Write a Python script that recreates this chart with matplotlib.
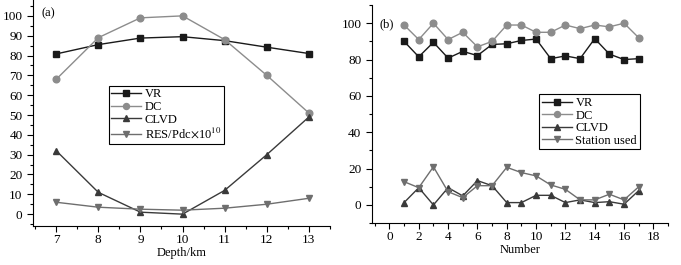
"""
Moment tensor inversion results: (a) versus depth, (b) per event number
"""

import matplotlib
matplotlib.use("Agg")
import matplotlib.pyplot as plt
from matplotlib.ticker import MultipleLocator

plt.rcParams['font.family'] = ['Liberation Serif', 'DejaVu Serif']
plt.rcParams['font.size'] = 9
plt.rcParams['mathtext.fontset'] = 'stix'

# Panel (a): depth scan
depth = [7, 8, 9, 10, 11, 12, 13]
vr_a = [80.8, 85.5, 88.8, 89.5, 87.5, 84.2, 81.0]
dc_a = [68, 89, 99, 100, 88, 70, 51]
clvd_a = [32, 11, 1, 0, 12, 30, 49]
res_a = [6, 3.5, 2.5, 2, 3, 5, 8]

# Panel (b): per event
number = list(range(1, 18))
vr_b = [90, 81.5, 89.5, 80.8, 84.5, 82.2, 88.3, 88.7, 90.5, 91.3, 80.5, 82, 80.5, 91.5, 83, 80, 80.5]
dc_b = [99, 91, 100, 91, 95, 87, 90, 99, 99, 95, 95, 99, 97, 99, 98, 100, 92]
clvd_b = [1.3, 9.5, 0, 9.5, 5, 13.4, 10.6, 1.3, 1.3, 5.3, 5.3, 1.3, 2.8, 1.3, 1.8, 0.4, 7.9]
station_b = [12.8, 9.5, 21, 7.3, 4, 10.6, 10.6, 20.7, 17.8, 16, 11, 8.6, 2.8, 2.8, 5.9, 2.8, 10]

C_VR = '#1a1a1a'
C_DC = '#8c8c8c'
C_CLVD = '#3a3a3a'
C_RES = '#6e6e6e'
MS = 4.8
TICK_FS = 9.5
TXT_FS = 9


def style_axes(ax):
    ax.spines['top'].set_visible(False)
    ax.spines['right'].set_visible(False)
    ax.tick_params(which='both', direction='out', labelsize=TICK_FS, width=0.8)
    ax.tick_params(which='major', length=4)
    ax.tick_params(which='minor', length=2)
    ax.tick_params(axis='x', which='major', pad=1.5)


fig = plt.figure(figsize=(6.81, 2.65), dpi=100)

ax1 = fig.add_axes([0.0485, 0.147, 0.436, 0.853])
ax1.plot(depth, vr_a, '-s', color=C_VR, ms=MS, lw=1, label='VR')
ax1.plot(depth, dc_a, '-o', color=C_DC, ms=MS, lw=1, label='DC')
ax1.plot(depth, clvd_a, '-^', color=C_CLVD, ms=MS, lw=1, label='CLVD')
ax1.plot(depth, res_a, '-v', color=C_RES, ms=MS, lw=1, label=r'RES/Pdc$\times$10$^{10}$')
ax1.set_xlim(6.45, 13.5)
ax1.set_ylim(-6, 108)
ax1.xaxis.set_major_locator(MultipleLocator(1))
ax1.xaxis.set_minor_locator(MultipleLocator(0.5))
ax1.yaxis.set_major_locator(MultipleLocator(10))
ax1.yaxis.set_minor_locator(MultipleLocator(5))
ax1.set_xlabel('Depth/km', fontsize=TXT_FS, labelpad=1)
style_axes(ax1)
ax1.text(0.03, 0.93, '(a)', transform=ax1.transAxes, fontsize=TXT_FS)
leg1 = ax1.legend(loc='upper left', bbox_to_anchor=(0.255, 0.62), fontsize=TXT_FS,
                  frameon=True, fancybox=False, edgecolor='black', framealpha=1,
                  handlelength=2.4, borderpad=0.2, labelspacing=0.05,
                  handletextpad=0.3, borderaxespad=0, markerscale=0.9)
leg1.get_frame().set_linewidth(0.8)

ax2 = fig.add_axes([0.546, 0.158, 0.435, 0.823])
ax2.plot(number, vr_b, '-s', color=C_VR, ms=MS, lw=1, label='VR')
ax2.plot(number, dc_b, '-o', color=C_DC, ms=MS, lw=1, label='DC')
ax2.plot(number, clvd_b, '-^', color=C_CLVD, ms=MS, lw=1, label='CLVD')
ax2.plot(number, station_b, '-v', color=C_RES, ms=MS, lw=1, label='Station used')
ax2.set_xlim(-1.2, 19)
ax2.set_ylim(-10, 110)
ax2.xaxis.set_major_locator(MultipleLocator(2))
ax2.xaxis.set_minor_locator(MultipleLocator(1))
ax2.yaxis.set_major_locator(MultipleLocator(20))
ax2.yaxis.set_minor_locator(MultipleLocator(10))
ax2.set_xlabel('Number', fontsize=TXT_FS, labelpad=1)
style_axes(ax2)
ax2.text(0.025, 0.9, '(b)', transform=ax2.transAxes, fontsize=TXT_FS)
leg2 = ax2.legend(loc='upper left', bbox_to_anchor=(0.565, 0.59), fontsize=TXT_FS,
                  frameon=True, fancybox=False, edgecolor='black', framealpha=1,
                  handlelength=2.4, borderpad=0.2, labelspacing=0.05,
                  handletextpad=0.3, borderaxespad=0, markerscale=0.9)
leg2.get_frame().set_linewidth(0.8)

fig.savefig('out.png', dpi=100)
plt.close(fig)
